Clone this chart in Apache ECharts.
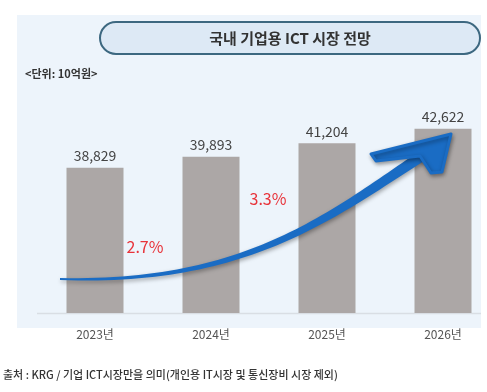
<!DOCTYPE html>
<html><head><meta charset="utf-8">
<script src="https://cdn.jsdelivr.net/npm/echarts@6/dist/echarts.min.js"></script>
<style>html,body{margin:0;padding:0;background:#fff}#c{width:487px;height:392px}</style>
</head><body><div id="c"></div>
<script>
const categories = ['2023년', '2024년', '2025년', '2026년'];
const marketValues = [38829, 39893, 41204, 42622];
const growthLabels = ['2.7%', '3.3%'];
const titleText = '국내 기업용 ICT 시장 전망';
const unitText = '<단위: 10억원>';
const sourceText = '출처 : KRG / 기업 ICT시장만을 의미(개인용 IT시장 및 통신장비 시장 제외)';

const FONT = '"Noto Sans CJK KR", "Noto Sans", sans-serif';

// decorative curved arrow (tapered shaft)
function bez(p0, p1, p2, p3, t) {
  const u = 1 - t;
  return [u*u*u*p0[0] + 3*u*u*t*p1[0] + 3*u*t*t*p2[0] + t*t*t*p3[0],
          u*u*u*p0[1] + 3*u*u*t*p1[1] + 3*u*t*t*p2[1] + t*t*t*p3[1]];
}
function shaftPolygon() {
  const P0 = [60, 279], P1 = [250, 285], P2 = [335, 212], P3 = [428, 152];
  const up = [], dn = [];
  const N = 60;
  for (let i = 0; i <= N; i++) {
    const t = i / N;
    const a = bez(P0, P1, P2, P3, Math.max(0, t - 0.001));
    const b = bez(P0, P1, P2, P3, Math.min(1, t + 0.001));
    const p = bez(P0, P1, P2, P3, t);
    let dx = b[0] - a[0], dy = b[1] - a[1];
    const L = Math.hypot(dx, dy); dx /= L; dy /= L;
    const hw = (2.0 + 9 * t) / 2;
    up.push([p[0] - dy * hw, p[1] + dx * hw]);
    dn.push([p[0] + dy * hw, p[1] - dx * hw]);
  }
  return up.concat(dn.reverse());
}

const chart = echarts.init(document.getElementById('c'), null, {renderer: 'canvas'});
const arrowColor = '#1a6cc4';
const shadow = {shadowBlur: 4, shadowColor: 'rgba(0,0,0,0.35)', shadowOffsetX: 1, shadowOffsetY: 2};

chart.setOption({
  animation: false,
  backgroundColor: '#ffffff',
  textStyle: {fontFamily: FONT},
  grid: {left: 37, top: 100, width: 464, height: 213, outerBoundsMode: 'none', containLabel: false},
  xAxis: {
    type: 'category',
    data: categories,
    axisLine: {show: false},
    axisTick: {show: false},
    axisLabel: {color: '#555', fontSize: 12, margin: 15, fontFamily: FONT}
  },
  yAxis: {type: 'value', min: 24700, max: 45420, show: false, splitLine: {show: false}},
  graphic: [
    {type: 'rect', z: -10, shape: {x: 17, y: 15, width: 464, height: 313}, style: {fill: '#edf4fb'}},
    {type: 'line', z: 1, shape: {x1: 37, y1: 313.5, x2: 481, y2: 313.5}, style: {stroke: '#d9dee4', lineWidth: 1.5}},
    {type: 'rect', shape: {x: 100, y: 22, width: 380, height: 32, r: 16},
     style: {fill: '#dde9f5', stroke: '#3d6880', lineWidth: 2}},
    {type: 'text', x: 290, y: 38, style: {text: titleText, fill: '#333', font: 'bold 15px ' + FONT, textAlign: 'center', textVerticalAlign: 'middle'}},
    {type: 'text', x: 25, y: 74, style: {text: unitText, fill: '#333', font: 'bold 11px ' + FONT, textAlign: 'left', textVerticalAlign: 'middle'}},
    {type: 'text', x: 3, y: 375, style: {text: sourceText, fill: '#333', font: '500 11px ' + FONT, textAlign: 'left', textVerticalAlign: 'middle'}},
    {type: 'polygon', z: 20, shape: {points: shaftPolygon()}, style: Object.assign({fill: arrowColor}, shadow)},
    {type: 'polygon', z: 21, shape: {points: [[451, 134], [371, 154], [376, 161], [420, 156], [431, 173], [442, 172]]},
     style: Object.assign({fill: arrowColor, stroke: arrowColor, lineWidth: 3, lineJoin: 'round'}, shadow)},
    {type: 'text', z: 30, x: 145, y: 247, style: {text: growthLabels[0], fill: '#e8333a', font: '16px ' + FONT, textAlign: 'center', textVerticalAlign: 'middle'}},
    {type: 'text', z: 30, x: 268, y: 199, style: {text: growthLabels[1], fill: '#e8333a', font: '16px ' + FONT, textAlign: 'center', textVerticalAlign: 'middle'}}
  ],
  series: [{
    type: 'bar',
    data: marketValues,
    barWidth: 57,
    itemStyle: {color: '#aca7a6'},
    label: {
      show: true, position: 'top', distance: 5,
      color: '#444', fontSize: 14, fontFamily: FONT,
      formatter: p => p.value.toLocaleString('en-US')
    }
  }]
});
</script></body></html>
